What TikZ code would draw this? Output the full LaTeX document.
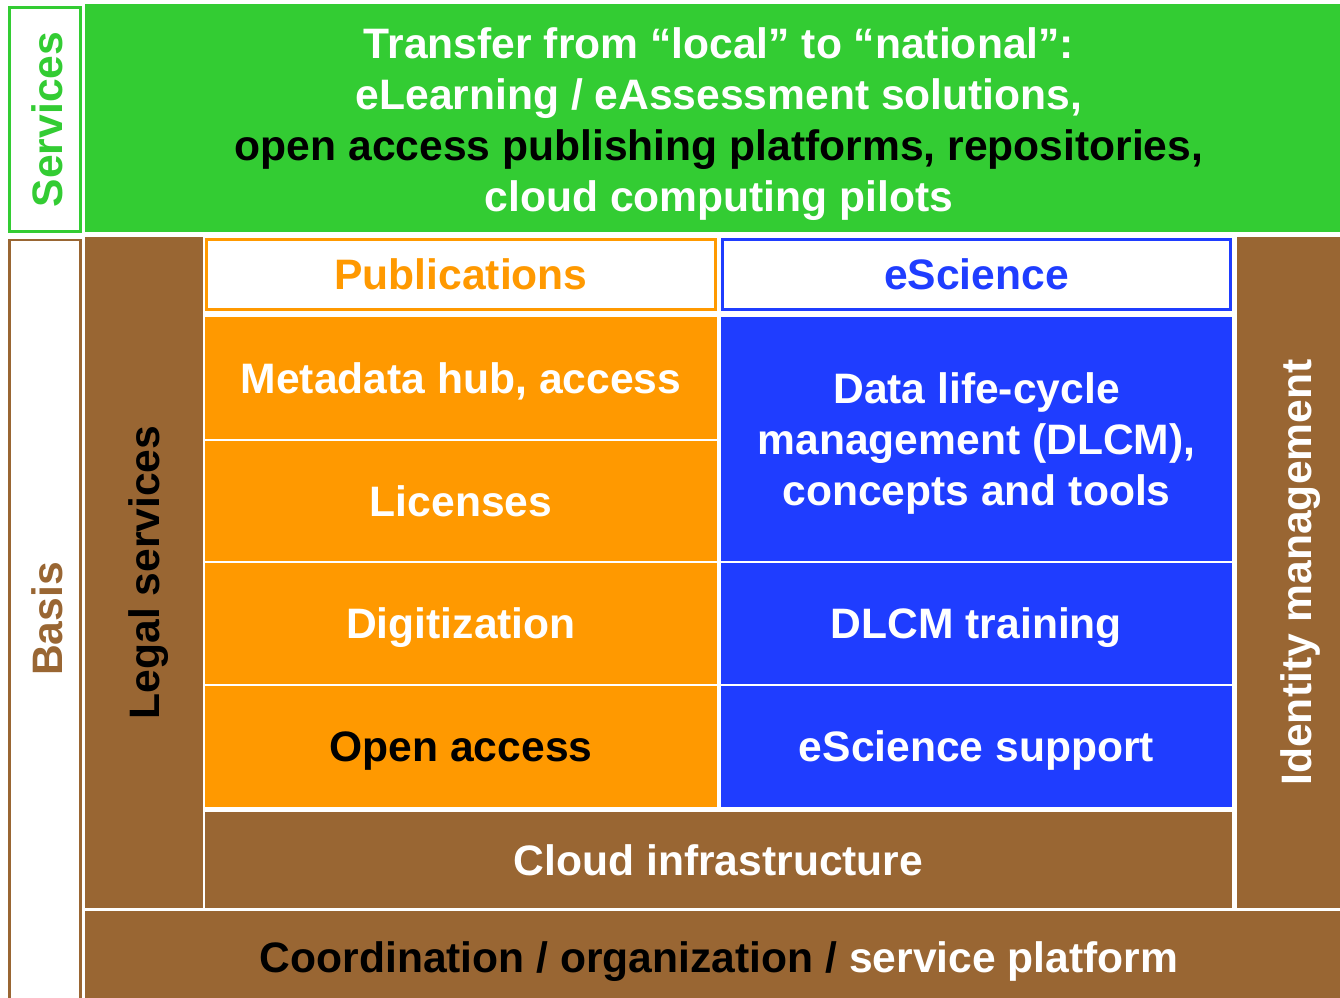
\documentclass[tikz,border=0pt]{standalone}
\usepackage{fontspec}
\setmainfont{Liberation Sans}
\definecolor{cgreen}{RGB}{51,204,51}
\definecolor{cbrown}{RGB}{153,102,51}
\definecolor{corange}{RGB}{255,153,0}
\definecolor{cblue}{RGB}{31,61,255}
\tikzset{
  blk/.style={rectangle, inner sep=0pt, outer sep=0pt, align=center, text depth=0pt,
    font=\bfseries\fontsize{42.6}{51}\selectfont},
  outl/.style={blk, draw=#1, line width=2.5pt, fill=white},
  filled/.style={blk, fill=#1, text=white},
  lbl/.style={inner sep=0pt, align=center, text depth=0pt, font=\bfseries\fontsize{42.6}{51}\selectfont}
}
\begin{document}
\begin{tikzpicture}[x=1pt,y=-1pt]
\useasboundingbox (0,0) rectangle (1340,997);
% Services
\node[outl=cgreen, minimum width=71pt, minimum height=224pt] (svclbl) at (45,119.5) {};
\node[lbl, text=cgreen, rotate=90] (svclbltxt) at (47,119.5) {Services};
\node[filled=cgreen, minimum width=1255pt, minimum height=228pt] (svc) at (712.5,118) {};
\node[lbl] (svctxt) at (719,120) {\textcolor{white}{Transfer from “local” to “national”:}\\
\textcolor{white}{eLearning / eAssessment solutions,}\\
\textcolor{black}{open access publishing platforms, repositories,}\\
\textcolor{white}{cloud computing pilots}};
% Basis
\node[outl=cbrown, minimum width=71pt, minimum height=762pt] (baslbl) at (45,621) {};
\node[lbl, text=cbrown, rotate=90] (bastxt) at (47,619) {Basis};
% Legal services
\node[filled=cbrown, minimum width=118pt, minimum height=671pt] (legal) at (144,572.5) {};
\node[lbl, text=black, rotate=90] (legaltxt) at (144,572.5) {Legal services};
% Identity management
\node[filled=cbrown, minimum width=103pt, minimum height=671pt] (idm) at (1288.5,572.5) {};
\node[lbl, text=white, rotate=90] (idmtxt) at (1296,572.5) {Identity management};
% Headers
\node[outl=corange, minimum width=509pt, minimum height=70pt, text=corange] (pubh) at (461,274.5) {Publications};
\node[outl=cblue, minimum width=508pt, minimum height=70pt, text=cblue] (esch) at (976.5,274.5) {eScience};
% Publications column
\node[filled=corange, minimum width=512pt, minimum height=122pt] (meta) at (461,378) {Metadata hub, access};
\node[filled=corange, minimum width=512pt, minimum height=120pt] (lic) at (461,501) {Licenses};
\node[filled=corange, minimum width=512pt, minimum height=121pt] (dig) at (461,623.5) {Digitization};
\node[filled=corange, minimum width=512pt, minimum height=121pt, text=black] (oa) at (461,746.5) {Open access};
% eScience column
\node[filled=cblue, minimum width=511pt, minimum height=244pt] (dlcm) at (976.5,439) {Data life-cycle\\management (DLCM),\\concepts and tools};
\node[filled=cblue, minimum width=511pt, minimum height=121pt] (dlcmt) at (976.5,623.5) {DLCM training};
\node[filled=cblue, minimum width=511pt, minimum height=121pt] (escs) at (976.5,746.5) {eScience support};
% Cloud
\node[filled=cbrown, minimum width=1027pt, minimum height=96pt] (cloud) at (718.5,860) {Cloud infrastructure};
% Coordination
\node[filled=cbrown, minimum width=1255pt, minimum height=90pt] (coord) at (712.5,956) {};
\node[lbl] (coordtxt) at (719,957) {\textcolor{black}{Coordination / organization /} \textcolor{white}{service platform}};
\end{tikzpicture}
\end{document}
